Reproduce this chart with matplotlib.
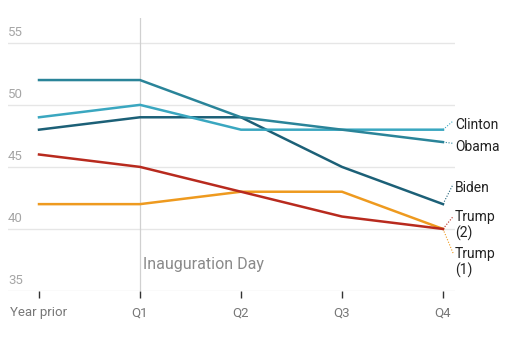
import matplotlib
matplotlib.use("Agg")
import matplotlib.pyplot as plt
from matplotlib.transforms import blended_transform_factory

plt.rcParams['font.family'] = ['Roboto', 'DejaVu Sans']

categories = ["Year prior", "Q1", "Q2", "Q3", "Q4"]
obama = [52, 52, 49, 48, 47]
clinton = [49, 50, 48, 48, 48]
biden = [48, 49, 49, 45, 42]
trump2 = [46, 45, 43, 41, 40]
trump1 = [42, 42, 43, 43, 40]
yticks = [35, 40, 45, 50, 55]

series = [
    ("Trump\n(1)", trump1, "#ee9a1f", 37.3),
    ("Trump\n(2)", trump2, "#b82a1e", 40.25),
    ("Biden", biden, "#1c6077", 43.3),
    ("Clinton", clinton, "#3aa7c0", 48.4),
    ("Obama", obama, "#2a8499", 46.6),
]

fig = plt.figure(figsize=(5.10, 3.43), dpi=100)
ax = fig.add_axes([8/510, 1 - 291/343, (455 - 8)/510, (291 - 18)/343])
x = list(range(len(categories)))
ax.set_xlim(-0.307, 4.119)
ax.set_ylim(35, 57)

for v in yticks:
    ax.axhline(v, color="#e6e6e6", lw=1, zorder=0)
trans = blended_transform_factory(ax.transAxes, ax.transData)
for v in yticks:
    ax.text(0.0, v + 0.3, str(v), transform=trans, ha="left", va="bottom",
            fontsize=9.5, color="#a6a6a6")

ax.axvline(1, color="#d0d0d0", lw=0.9, zorder=1)
ax.text(1.025, 37.1, "Inauguration Day", fontsize=11.5, color="#8a8a8a",
        ha="left", va="center")

for name, vals, col, ly in series:
    ax.plot(x, vals, color=col, lw=1.8, zorder=3, solid_joinstyle="miter")
    ax.plot([4, 4.1], [vals[-1], ly + (0.3 if "\n" not in name else 0.75)],
            color=col, lw=0.8, ls=(0, (1, 1.5)), clip_on=False, zorder=2)
    ax.text(4.12, ly, name, fontsize=10, color="#222222", ha="left",
            va="center", linespacing=1.15, clip_on=False)

for s in ax.spines.values():
    s.set_visible(False)
ax.set_yticks([])
ax.set_xticks(x)
ax.set_xticklabels(categories, fontsize=9.5, color="#777777")
ax.tick_params(axis="x", length=5, width=1, color="#333333", pad=6)

fig.savefig("out.png", dpi=100)
